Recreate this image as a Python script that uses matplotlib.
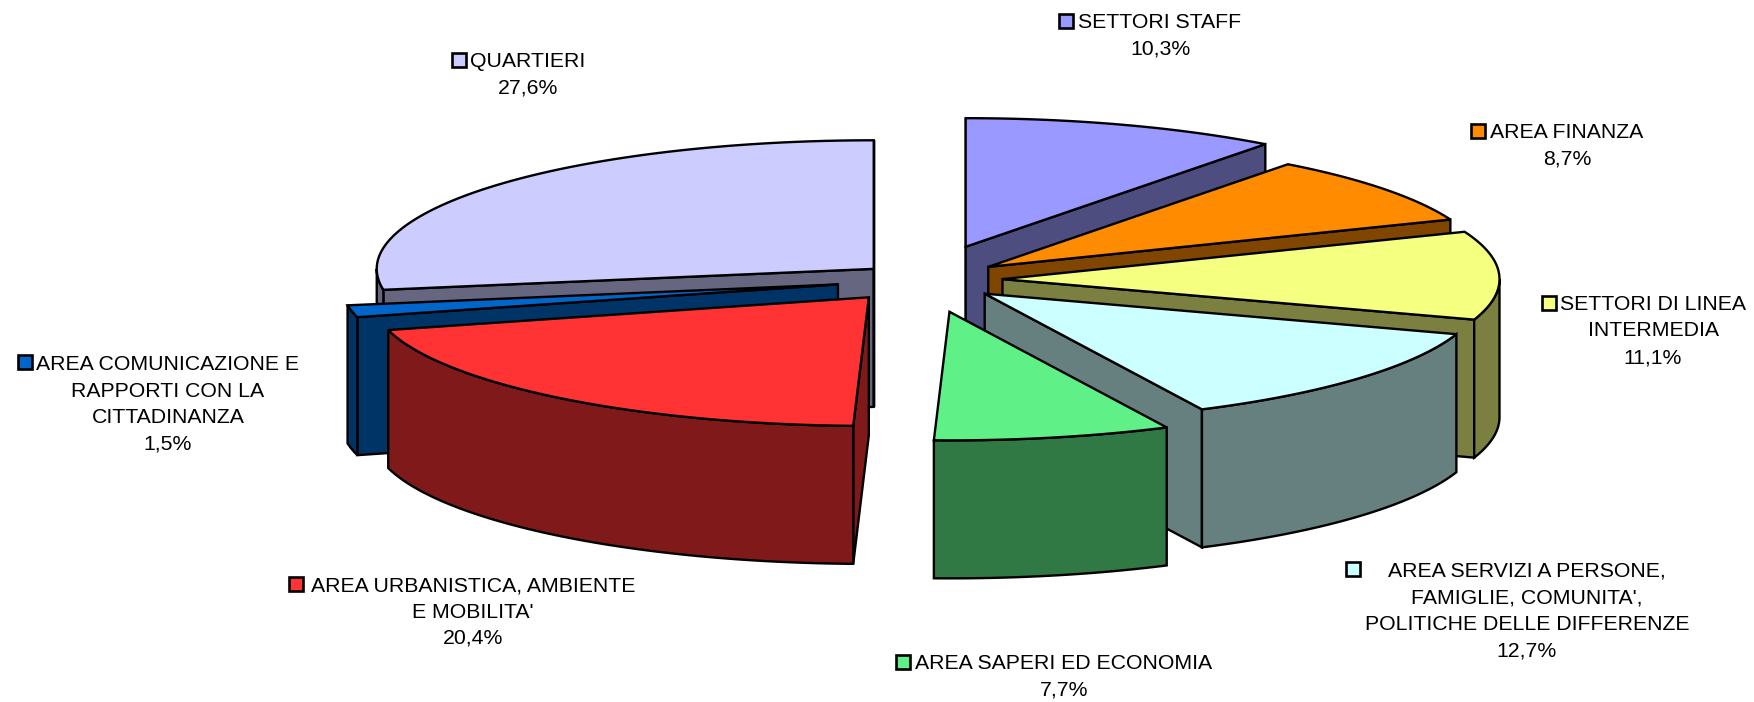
import numpy as np
import matplotlib
matplotlib.use("Agg")
import matplotlib.pyplot as plt

plt.rcParams['font.family'] = ['Liberation Sans', 'DejaVu Sans']

# data, clockwise from 12 o'clock
names = ["SETTORI STAFF", "AREA FINANZA", "SETTORI DI LINEA\nINTERMEDIA",
         "AREA SERVIZI A PERSONE,\nFAMIGLIE, COMUNITA',\nPOLITICHE DELLE DIFFERENZE",
         "AREA SAPERI ED ECONOMIA", "AREA URBANISTICA, AMBIENTE\nE MOBILITA'",
         "AREA COMUNICAZIONE E\nRAPPORTI CON LA\nCITTADINANZA", "QUARTIERI"]
values = [10.3, 8.7, 11.1, 12.7, 7.7, 20.4, 1.5, 27.6]
colors = ["#9999FF", "#FF8C00", "#F5FF80", "#CCFFFF", "#60F088", "#FF3333", "#0066CC", "#CCCCFF"]
explode = [0.27, 0.165, 0.16, 0.165, 0.255, 0.175, 0.175, 0.13]
draw_order = [0, 1, 2, 3, 4, 7, 6, 5]

# label block centre (x, y) and legend key centre (x, y), in pixels
label_pos = [(1160, 35.5), (1567, 145.5), (1653, 331), (1527, 611),
             (1064, 677), (473, 612), (168, 404.5), (528, 74.5)]
key_pos = [(1066, 21), (1478, 131), (1549, 303), (1353, 569),
           (903, 662), (296, 584), (25, 362), (459, 60)]

cx, cy = 923.0, 279.7
rx, ry = 497.0, 128.6
depth = 138.0
lw = 1.7


def to_xy(theta, ox, oy):
    return ox + rx * np.sin(theta), oy - ry * np.cos(theta)


def half(c):
    rgb = matplotlib.colors.to_rgb(c)
    return tuple(v * 0.5 for v in rgb)


fig = plt.figure(figsize=(17.54, 7.02), dpi=100)
ax = fig.add_axes([0, 0, 1, 1])
ax.set_xlim(0, 1754)
ax.set_ylim(702, 0)
ax.axis("off")

edges = np.cumsum([0] + values) / sum(values) * 2 * np.pi


def face(xs, ys, color):
    ax.fill(xs, ys, facecolor=color, edgecolor="black", linewidth=lw, joinstyle="miter")


for i in draw_order:
    t1, t2 = edges[i], edges[i + 1]
    mid = (t1 + t2) / 2
    ox = cx + explode[i] * rx * np.sin(mid)
    oy = cy - explode[i] * ry * np.cos(mid)
    wall = half(colors[i])

    # cut faces that look towards the viewer
    for t, vis in ((t1, np.sin(t1) < 1e-9), (t2, np.sin(t2) > -1e-9)):
        if vis:
            x, y = to_xy(t, ox, oy)
            face([ox, x, x, ox], [oy, y, y + depth, oy + depth], wall)

    # outer rim, only the front half of the ellipse shows
    a, b = max(t1, np.pi / 2), min(t2, 3 * np.pi / 2)
    if b > a:
        th = np.linspace(a, b, 120)
        x, y = to_xy(th, ox, oy)
        face(np.r_[x, x[::-1]], np.r_[y, (y + depth)[::-1]], wall)

    th = np.linspace(t1, t2, 200)
    x, y = to_xy(th, ox, oy)
    face(np.r_[ox, x], np.r_[oy, y], colors[i])

# labels
for i in range(len(names)):
    pct = f"{values[i]:.1f}".replace(".", ",") + "%"
    ax.text(label_pos[i][0], label_pos[i][1], names[i] + "\n" + pct, ha="center", va="center",
            ma="center", fontsize=15.3, linespacing=1.5, color="black")
    ax.plot(key_pos[i][0], key_pos[i][1], marker="s", markersize=9.5, markerfacecolor=colors[i],
            markeredgecolor="black", markeredgewidth=1.9, linestyle="none")

fig.savefig("out.png", dpi=100)
